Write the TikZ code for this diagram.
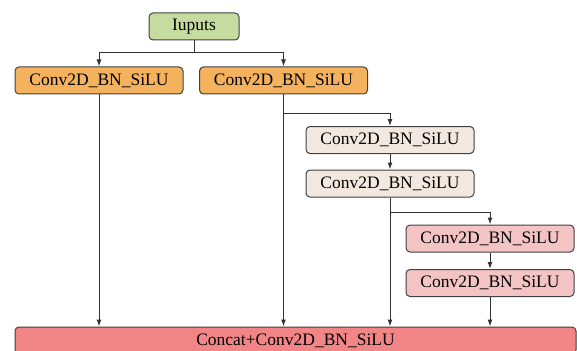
\documentclass[tikz,border=0pt]{standalone}
\usepackage{fontspec}
\setmainfont{Liberation Serif}
\usetikzlibrary{arrows.meta}

\definecolor{inputgreen}{RGB}{198,219,160}
\definecolor{convorange}{RGB}{244,178,94}
\definecolor{convbeige}{RGB}{242,232,224}
\definecolor{convpink}{RGB}{244,196,196}
\definecolor{catred}{RGB}{242,133,133}

\begin{document}
\begin{tikzpicture}[x=1pt, y=-1pt,
  every node/.style = {shape=rectangle, rounded corners=4pt,
    draw=black!75, line width=1pt, align=center,
    font=\fontsize{17.5}{19}\selectfont,
    minimum width=168pt, minimum height=27pt, inner sep=0pt},
  arr/.style = {draw=black!80, line width=1pt,
    -{Latex[length=7pt,width=5pt]}}]
  \useasboundingbox (0,0) rectangle (577,350);

  \node[fill=inputgreen, minimum width=90pt] (inp) at (194,26.5) {Iuputs};
  \node[fill=convorange] (cva) at (99,80.5) {Conv2D\_BN\_SiLU};
  \node[fill=convorange] (cvb) at (283.5,80.5) {Conv2D\_BN\_SiLU};
  \node[fill=convbeige] (bga) at (390,140) {Conv2D\_BN\_SiLU};
  \node[fill=convbeige] (bgb) at (390,183.5) {Conv2D\_BN\_SiLU};
  \node[fill=convpink] (pka) at (490,238.5) {Conv2D\_BN\_SiLU};
  \node[fill=convpink] (pkb) at (490,283) {Conv2D\_BN\_SiLU};
  \node[fill=catred, minimum width=561pt] (cat) at (295.5,340.5)
    {Concat+Conv2D\_BN\_SiLU};

  % split of the inputs
  \draw[arr] (inp.south) -- ++(0,12.5) -| (cva.north);
  \draw[arr] (inp.south) -- ++(0,12.5) -| (cvb.north);
  % second branch
  \draw[arr] (cvb.south) -- ++(0,19) -| (bga.north);
  \draw[arr] (bga.south) -- (bgb.north);
  \draw[arr] (bgb.south) -- ++(0,15) -| (pka.north);
  \draw[arr] (pka.south) -- (pkb.north);
  % into the concat
  \draw[arr] (cva.south) -- (cva.south |- cat.north);
  \draw[arr] (cvb.south) -- (cvb.south |- cat.north);
  \draw[arr] (bgb.south) -- (bgb.south |- cat.north);
  \draw[arr] (pkb.south) -- (pkb.south |- cat.north);
\end{tikzpicture}
\end{document}
